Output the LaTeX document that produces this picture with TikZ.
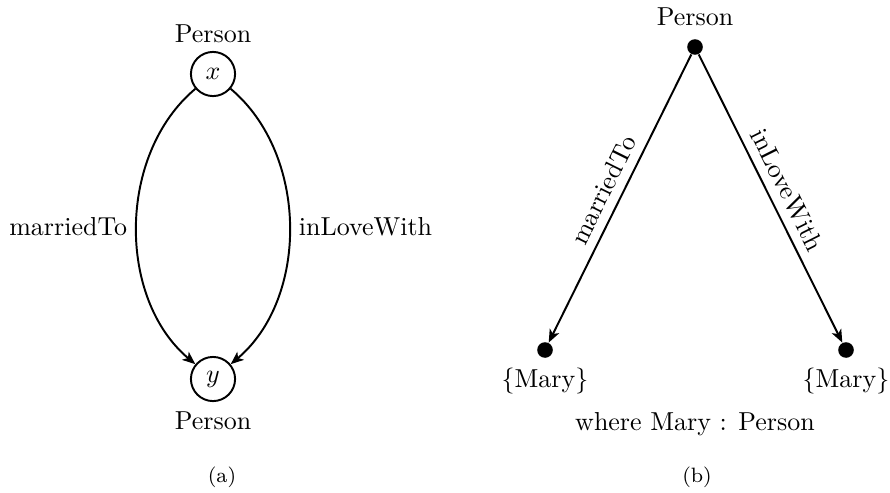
\documentclass[tikz,border=0pt]{standalone}
\usetikzlibrary{arrows.meta}
\begin{document}
\begin{tikzpicture}[x=0.385pt,y=0.385pt,
  every node/.style={font=\normalsize},
  varnode/.style={draw,circle,line width=0.75pt,minimum size=17pt,inner sep=0pt},
  dotnode/.style={fill=black,circle,minimum size=6pt,inner sep=0pt},
  arr/.style={line width=0.75pt,-{Stealth[length=5pt,width=4pt,inset=1.3pt]}},
  subcap/.style={font=\footnotesize}]
\useasboundingbox (0,0) rectangle (890,-492);
% (a)
\node[varnode] (x) at (213,-74) {$x$};
\node[varnode] (y) at (213,-379) {$y$};
\node (px) at (213,-34) {Person};
\node (py) at (213,-421) {Person};
\draw[arr] (x) to[out=220,in=140,looseness=0.95] node[pos=0.5,left] {marriedTo} (y);
\draw[arr] (x) to[out=-40,in=40,looseness=0.95] node[pos=0.5,right] {inLoveWith} (y);
\node[subcap] (capa) at (222,-477) {(a)};
% (b)
\node[dotnode] (t) at (695,-47) {};
\node[dotnode] (l) at (545,-350) {};
\node[dotnode] (r) at (846,-350) {};
\node (pt) at (695,-17) {Person};
\node (ml) at (545,-381) {$\{$Mary$\}$};
\node (mr) at (846,-381) {$\{$Mary$\}$};
\node (wh) at (695,-424) {where Mary : Person};
\draw[arr] (t) -- node[midway,above,sloped] {marriedTo} (l);
\draw[arr] (t) -- node[midway,above,sloped] {inLoveWith} (r);
\node[subcap] (capb) at (697,-477) {(b)};
\end{tikzpicture}
\end{document}
